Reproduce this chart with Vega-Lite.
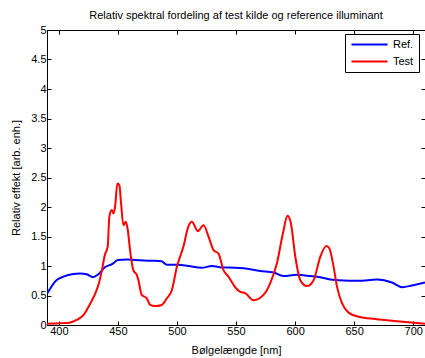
{
  "$schema": "https://vega.github.io/schema/vega-lite/v6.json",
  "width": 378,
  "height": 295,
  "autosize": {"type": "none"},
  "padding": {"left": 47, "top": 30, "right": 0, "bottom": 33},
  "background": "white",
  "config": {
    "font": "Liberation Sans",
    "view": {"stroke": "black", "strokeWidth": 1},
    "axis": {"grid": false, "domainColor": "black", "tickColor": "black", "labelColor": "black", "titleColor": "black", "labelFontSize": 11, "titleFontSize": 11, "titleFontWeight": "normal", "labelFont": "Liberation Sans", "titleFont": "Liberation Sans", "tickSize": -4, "domainWidth": 1, "tickWidth": 1}
  },
  "title": {"text": "Relativ spektral fordeling af test kilde og reference illuminant", "fontSize": 11, "font": "Liberation Sans", "fontWeight": "normal", "color": "black", "offset": 3, "anchor": "middle"},
  "data": {"values": [
    {"nm": 390, "v": 0.53, "s": "Ref."},
    {"nm": 398, "v": 0.76, "s": "Ref."},
    {"nm": 404, "v": 0.82, "s": "Ref."},
    {"nm": 411, "v": 0.86, "s": "Ref."},
    {"nm": 418, "v": 0.875, "s": "Ref."},
    {"nm": 423.6, "v": 0.86, "s": "Ref."},
    {"nm": 429, "v": 0.81, "s": "Ref."},
    {"nm": 433.5, "v": 0.86, "s": "Ref."},
    {"nm": 439, "v": 0.98, "s": "Ref."},
    {"nm": 445, "v": 1.03, "s": "Ref."},
    {"nm": 450, "v": 1.1, "s": "Ref."},
    {"nm": 457.5, "v": 1.11, "s": "Ref."},
    {"nm": 465, "v": 1.1, "s": "Ref."},
    {"nm": 478.7, "v": 1.09, "s": "Ref."},
    {"nm": 487, "v": 1.08, "s": "Ref."},
    {"nm": 491.4, "v": 1.02, "s": "Ref."},
    {"nm": 501, "v": 1.02, "s": "Ref."},
    {"nm": 509.7, "v": 1.0, "s": "Ref."},
    {"nm": 521, "v": 0.97, "s": "Ref."},
    {"nm": 529.6, "v": 1.0, "s": "Ref."},
    {"nm": 538, "v": 0.976, "s": "Ref."},
    {"nm": 549, "v": 0.97, "s": "Ref."},
    {"nm": 556.4, "v": 0.96, "s": "Ref."},
    {"nm": 570.5, "v": 0.915, "s": "Ref."},
    {"nm": 581.8, "v": 0.89, "s": "Ref."},
    {"nm": 590, "v": 0.83, "s": "Ref."},
    {"nm": 601.6, "v": 0.85, "s": "Ref."},
    {"nm": 612.9, "v": 0.83, "s": "Ref."},
    {"nm": 621.4, "v": 0.81, "s": "Ref."},
    {"nm": 629.8, "v": 0.77, "s": "Ref."},
    {"nm": 636.9, "v": 0.76, "s": "Ref."},
    {"nm": 653.8, "v": 0.75, "s": "Ref."},
    {"nm": 669.4, "v": 0.77, "s": "Ref."},
    {"nm": 682, "v": 0.72, "s": "Ref."},
    {"nm": 690.6, "v": 0.64, "s": "Ref."},
    {"nm": 699, "v": 0.67, "s": "Ref."},
    {"nm": 710, "v": 0.72, "s": "Ref."},
    {"nm": 390, "v": 0.02, "s": "Test"},
    {"nm": 395, "v": 0.025, "s": "Test"},
    {"nm": 401, "v": 0.03, "s": "Test"},
    {"nm": 409, "v": 0.04, "s": "Test"},
    {"nm": 415, "v": 0.085, "s": "Test"},
    {"nm": 421, "v": 0.17, "s": "Test"},
    {"nm": 426, "v": 0.34, "s": "Test"},
    {"nm": 431, "v": 0.54, "s": "Test"},
    {"nm": 434, "v": 0.71, "s": "Test"},
    {"nm": 436.5, "v": 0.93, "s": "Test"},
    {"nm": 439, "v": 1.19, "s": "Test"},
    {"nm": 441.4, "v": 1.33, "s": "Test"},
    {"nm": 442.8, "v": 1.84, "s": "Test"},
    {"nm": 444.8, "v": 1.95, "s": "Test"},
    {"nm": 446.2, "v": 1.89, "s": "Test"},
    {"nm": 447.6, "v": 2.0, "s": "Test"},
    {"nm": 449.6, "v": 2.4, "s": "Test"},
    {"nm": 451.3, "v": 2.37, "s": "Test"},
    {"nm": 452.7, "v": 2.06, "s": "Test"},
    {"nm": 454.7, "v": 1.69, "s": "Test"},
    {"nm": 456.7, "v": 1.75, "s": "Test"},
    {"nm": 458.4, "v": 1.61, "s": "Test"},
    {"nm": 460.3, "v": 1.27, "s": "Test"},
    {"nm": 463.1, "v": 0.93, "s": "Test"},
    {"nm": 466, "v": 0.85, "s": "Test"},
    {"nm": 467.4, "v": 0.76, "s": "Test"},
    {"nm": 470.2, "v": 0.51, "s": "Test"},
    {"nm": 474.5, "v": 0.45, "s": "Test"},
    {"nm": 477.3, "v": 0.34, "s": "Test"},
    {"nm": 481.5, "v": 0.32, "s": "Test"},
    {"nm": 487.2, "v": 0.34, "s": "Test"},
    {"nm": 491.4, "v": 0.45, "s": "Test"},
    {"nm": 495.7, "v": 0.59, "s": "Test"},
    {"nm": 500, "v": 0.99, "s": "Test"},
    {"nm": 505.5, "v": 1.33, "s": "Test"},
    {"nm": 509.7, "v": 1.67, "s": "Test"},
    {"nm": 512.6, "v": 1.75, "s": "Test"},
    {"nm": 517.7, "v": 1.59, "s": "Test"},
    {"nm": 522.5, "v": 1.69, "s": "Test"},
    {"nm": 526.7, "v": 1.5, "s": "Test"},
    {"nm": 531, "v": 1.27, "s": "Test"},
    {"nm": 535.2, "v": 1.21, "s": "Test"},
    {"nm": 539.4, "v": 0.93, "s": "Test"},
    {"nm": 543.6, "v": 0.82, "s": "Test"},
    {"nm": 549.3, "v": 0.64, "s": "Test"},
    {"nm": 553.6, "v": 0.56, "s": "Test"},
    {"nm": 557.8, "v": 0.54, "s": "Test"},
    {"nm": 564.8, "v": 0.42, "s": "Test"},
    {"nm": 573.3, "v": 0.51, "s": "Test"},
    {"nm": 579, "v": 0.71, "s": "Test"},
    {"nm": 584.7, "v": 1.05, "s": "Test"},
    {"nm": 589.7, "v": 1.55, "s": "Test"},
    {"nm": 593.6, "v": 1.85, "s": "Test"},
    {"nm": 596.5, "v": 1.72, "s": "Test"},
    {"nm": 600.2, "v": 1.16, "s": "Test"},
    {"nm": 604.4, "v": 0.76, "s": "Test"},
    {"nm": 610.1, "v": 0.66, "s": "Test"},
    {"nm": 615.7, "v": 0.76, "s": "Test"},
    {"nm": 621.4, "v": 1.16, "s": "Test"},
    {"nm": 626.5, "v": 1.34, "s": "Test"},
    {"nm": 629, "v": 1.3, "s": "Test"},
    {"nm": 632.6, "v": 0.99, "s": "Test"},
    {"nm": 635.5, "v": 0.65, "s": "Test"},
    {"nm": 639.7, "v": 0.37, "s": "Test"},
    {"nm": 645.3, "v": 0.21, "s": "Test"},
    {"nm": 653.8, "v": 0.14, "s": "Test"},
    {"nm": 668, "v": 0.1, "s": "Test"},
    {"nm": 682, "v": 0.07, "s": "Test"},
    {"nm": 696, "v": 0.045, "s": "Test"},
    {"nm": 710, "v": 0.02, "s": "Test"}
  ]},
  "layer": [
    {
      "mark": {"type": "line", "strokeWidth": 2, "interpolate": "monotone", "clip": true},
      "encoding": {
        "x": {"field": "nm", "type": "quantitative", "scale": {"domain": [390, 710], "nice": false, "zero": false},
              "axis": {"orient": "bottom", "values": [400, 450, 500, 550, 600, 650, 700], "title": "Bølgelængde [nm]", "labelPadding": 4, "titlePadding": 8, "labelFlush": false}},
        "y": {"field": "v", "type": "quantitative", "scale": {"domain": [0, 5], "nice": false, "zero": false},
              "axis": {"orient": "left", "values": [0, 0.5, 1, 1.5, 2, 2.5, 3, 3.5, 4, 4.5, 5], "labelExpr": "'' + datum.value", "title": "Relativ effekt [arb. enh.]", "labelPadding": 5, "titlePadding": 9, "labelFlush": false}},
        "color": {"field": "s", "type": "nominal", "scale": {"domain": ["Ref.", "Test"], "range": ["#0000ff", "#ff0000"]},
                  "legend": {"title": null, "orient": "none", "legendX": 298, "legendY": 4, "strokeColor": "black", "fillColor": "white", "padding": 5, "symbolType": "M-4.5,0L4.5,0", "symbolSize": 64, "symbolOffset": 14, "symbolStrokeWidth": 2, "labelFontSize": 11, "labelFont": "Liberation Sans", "labelColor": "black", "rowPadding": 5, "labelOffset": 18}}
      }
    },
    {
      "mark": {"type": "line", "opacity": 0},
      "encoding": {
        "x": {"field": "nm", "type": "quantitative", "axis": {"orient": "top", "labels": false, "title": null, "values": [400, 450, 500, 550, 600, 650, 700]}},
        "y": {"field": "v", "type": "quantitative", "axis": {"orient": "right", "labels": false, "title": null, "values": [0, 0.5, 1, 1.5, 2, 2.5, 3, 3.5, 4, 4.5, 5]}},
        "detail": {"field": "s"}
      }
    }
  ],
  "resolve": {"axis": {"x": "independent", "y": "independent"}}
}
